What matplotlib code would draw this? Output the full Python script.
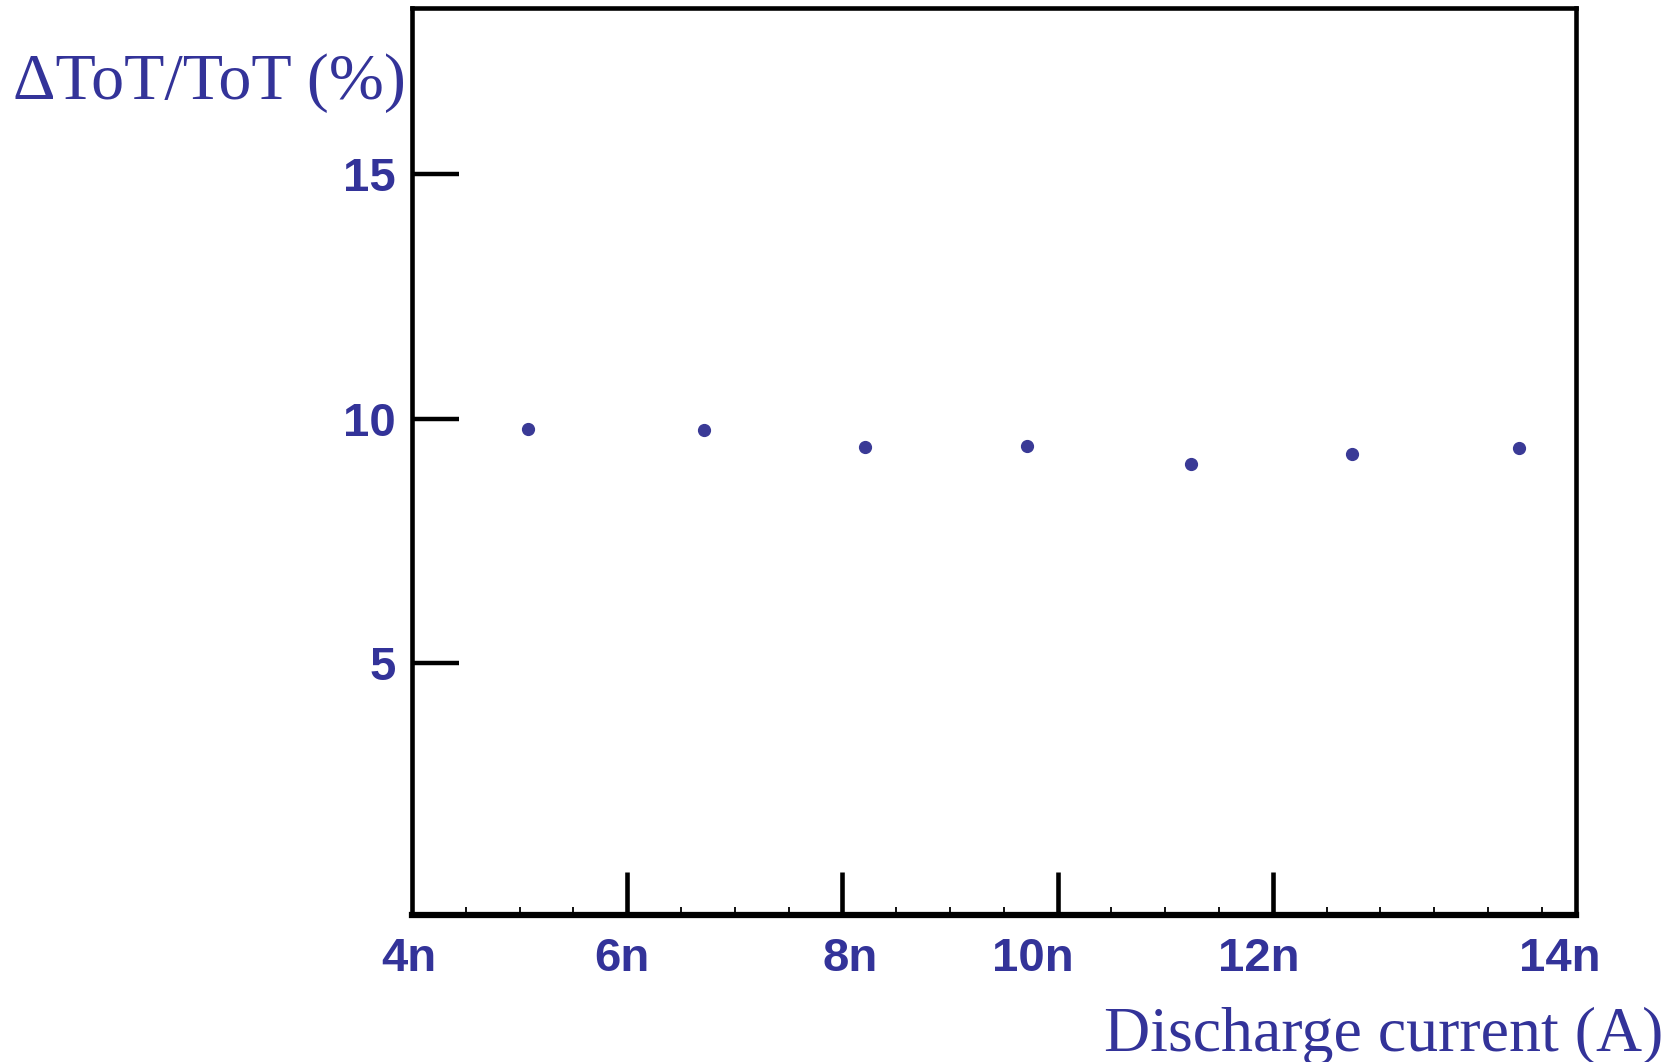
import matplotlib
matplotlib.use('Agg')
import matplotlib.pyplot as plt
from matplotlib.ticker import MultipleLocator

# data (x in units of nA, y in %)
current_n = [5.08, 6.71, 8.21, 9.72, 11.24, 12.74, 14.29]
dtot_pct = [9.79, 9.77, 9.42, 9.44, 9.07, 9.27, 9.40]

ytick_values = [5, 10, 15]
ytick_labels = ['5', '10', '15']
xmajor_ticks = [6, 8, 10, 12]
xlabel_pos = [3.97, 5.95, 8.07, 9.77, 11.87, 14.67]
xlabel_text = ['4n', '6n', '8n', '10n', '12n', '14n']

blue = '#333399'

fig = plt.figure(figsize=(16.75, 10.62), dpi=100)
ax = fig.add_axes([0.246, 0.138, 0.695, 0.854])

ax.plot(current_n, dtot_pct, 'o', color='#3a3a96', markersize=8.5)

ax.set_xlim(4, 14.82)
ax.set_ylim(-0.15, 18.38)

for s in ax.spines.values():
    s.set_linewidth(3.3)
ax.spines['bottom'].set_linewidth(4.5)

# y axis
ax.set_yticks(ytick_values)
ax.set_yticklabels(ytick_labels, fontsize=34, fontweight='bold', color=blue,
                   family='Liberation Sans')
ax.tick_params(axis='y', direction='in', length=34, width=3.2, pad=12,
               right=False)

# x axis: tall ticks without labels, small minor ticks every 0.5
ax.set_xticks(xmajor_ticks)
ax.set_xticklabels([])
ax.xaxis.set_minor_locator(MultipleLocator(0.5))
ax.tick_params(axis='x', which='major', direction='in', length=31, width=3.3,
               top=False)
ax.tick_params(axis='x', which='minor', direction='in', length=6, width=1.3,
               top=False)

for pos, txt in zip(xlabel_pos, xlabel_text):
    ax.text(pos, -0.048, txt, transform=ax.get_xaxis_transform(),
            ha='center', va='center', fontsize=34, fontweight='bold',
            color=blue, family='Liberation Sans')

fig.text(0.008, 0.922, '\u0394ToT/ToT (%)', fontsize=47.5, color=blue,
         family='Liberation Serif', ha='left', va='center')
fig.text(0.993, 0.025, 'Discharge current (A)', fontsize=46, color=blue,
         family='Liberation Serif', ha='right', va='center')

fig.savefig('out.png', dpi=100)
